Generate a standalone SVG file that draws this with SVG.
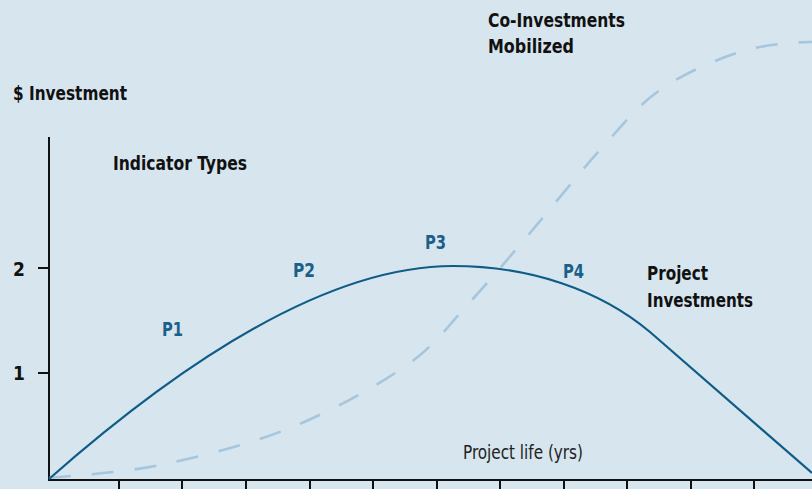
<svg xmlns="http://www.w3.org/2000/svg" width="812" height="489" viewBox="0 0 812 489">
<style>
.lbl{font-family:"Liberation Sans Narrow","DejaVu Sans Condensed","Liberation Sans",sans-serif;font-weight:bold;font-size:20px;fill:#111}
.num{font-family:"Liberation Sans Narrow","DejaVu Sans Condensed","Liberation Sans",sans-serif;font-weight:bold;font-size:19px;fill:#111}
.p{font-family:"Liberation Sans Narrow","DejaVu Sans Condensed","Liberation Sans",sans-serif;font-weight:bold;font-size:20px;fill:#1a6088}
.reg{font-family:"Liberation Sans Narrow","DejaVu Sans Condensed","Liberation Sans",sans-serif;font-size:20px;fill:#222}
.axis{stroke:#111;stroke-width:2;fill:none}
.proj{stroke:#0f5c87;stroke-width:2.2;fill:none}
.coinv{stroke:#a6c6dd;stroke-width:2.6;fill:none;stroke-dasharray:22 21}
</style>
<rect x="0" y="0" width="812" height="489" fill="#d7e5ef"/>
<g id="axes">
<path class="axis" d="M49,137 V481 M48,480 H812"/>
<path class="axis" d="M119,480 V489 M182,480 V489 M246,480 V489 M310,480 V489 M373,480 V489 M437,480 V489 M500,480 V489 M564,480 V489 M627,480 V489 M691,480 V489 M754,480 V489"/>
<path class="axis" d="M38,268 H49 M38,373 H49"/>
<text class="num" x="13" y="276">2</text>
<text class="num" x="13" y="380">1</text>
<text class="lbl" x="13" y="100" textLength="114" lengthAdjust="spacingAndGlyphs">$ Investment</text>
<text class="reg" x="463" y="459" textLength="120" lengthAdjust="spacingAndGlyphs">Project life (yrs)</text>
</g>
<g id="connectors">
<path id="coinvestments-curve" class="coinv" d="M49,478 C67.5,475.8 119.8,473.3 160,465 C200.2,456.7 248.8,444.7 290,428 C331.2,411.3 377,386 407,365 C437,344 449.5,324 470,302 C490.5,280 508.3,258.3 530,233 C551.7,207.7 578.3,173.8 600,150 C621.7,126.2 636.7,106.3 660,90 C683.3,73.7 714.7,60 740,52 C765.3,44 795,42 812,42"/>
<path id="project-curve" class="proj" d="M49,479 C150,390 310,266 453,266 C530,266 600,290 650,332 L812,473"/>
</g>
<g id="indicator-types">
<text class="lbl" x="113" y="170" textLength="134" lengthAdjust="spacingAndGlyphs">Indicator Types</text>
</g>
<g id="p1"><text class="p" x="162" y="336" textLength="21" lengthAdjust="spacingAndGlyphs">P1</text></g>
<g id="p2"><text class="p" x="293" y="277" textLength="22" lengthAdjust="spacingAndGlyphs">P2</text></g>
<g id="p3"><text class="p" x="425" y="249" textLength="21" lengthAdjust="spacingAndGlyphs">P3</text></g>
<g id="p4"><text class="p" x="563" y="278" textLength="21" lengthAdjust="spacingAndGlyphs">P4</text></g>
<g id="co-investments-label">
<text class="lbl" x="488" y="27" textLength="137" lengthAdjust="spacingAndGlyphs">Co-Investments</text>
<text class="lbl" x="488" y="53" textLength="86" lengthAdjust="spacingAndGlyphs">Mobilized</text>
</g>
<g id="project-investments-label">
<text class="lbl" x="647" y="280" textLength="61" lengthAdjust="spacingAndGlyphs">Project</text>
<text class="lbl" x="647" y="307" textLength="106" lengthAdjust="spacingAndGlyphs">Investments</text>
</g>
</svg>
